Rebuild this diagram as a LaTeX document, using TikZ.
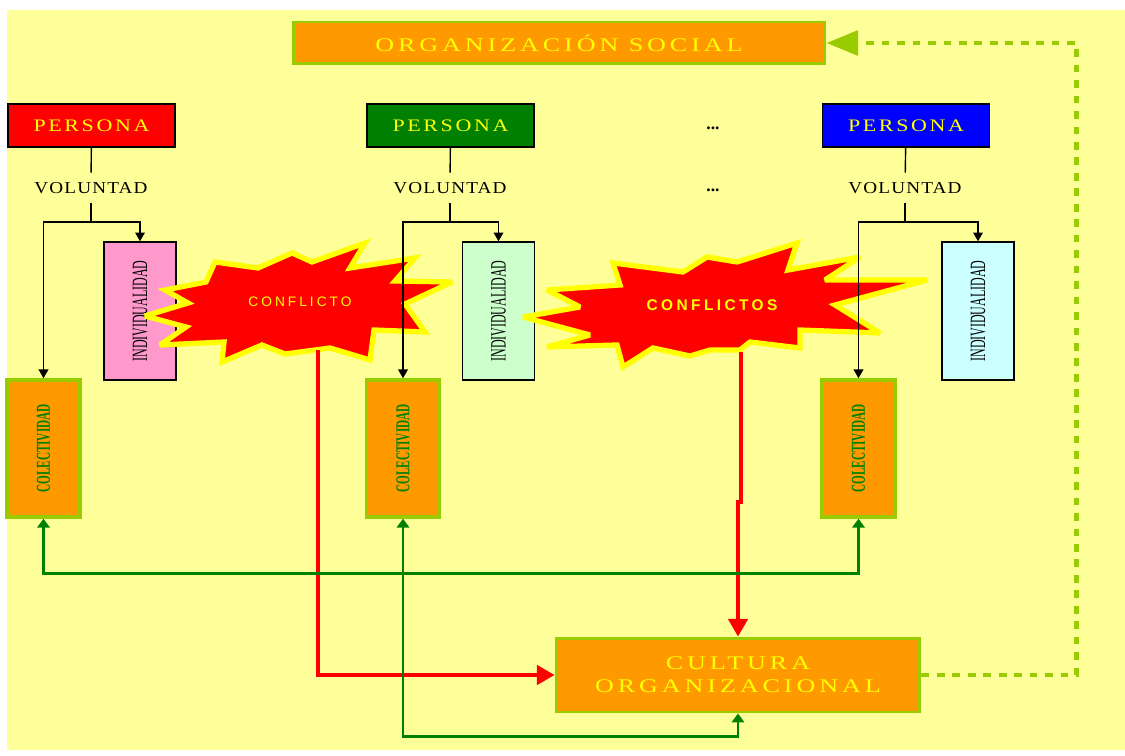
\documentclass[tikz,border=0pt]{standalone}
\usepackage{fontspec}
\setmainfont{Liberation Serif}
\newfontfamily\widefont[LetterSpace=15]{Liberation Serif}
\newfontfamily\perfont[LetterSpace=12]{Liberation Serif}
\newfontfamily\volfont[LetterSpace=6]{Liberation Serif}
\newfontfamily\burstfont[LetterSpace=22]{Liberation Sans}
\usetikzlibrary{arrows.meta,positioning}
\definecolor{bgyellow}{HTML}{FFFF99}
\definecolor{txtyellow}{HTML}{FFFF00}
\definecolor{orgorange}{HTML}{FF9900}
\definecolor{limeedge}{HTML}{99CC00}
\definecolor{perred}{HTML}{FF0000}
\definecolor{pergreen}{HTML}{008000}
\definecolor{perblue}{HTML}{0000FF}
\definecolor{indpink}{HTML}{FF99CC}
\definecolor{indmint}{HTML}{CCFFCC}
\definecolor{indcyan}{HTML}{CCFFFF}
\newcommand{\wideword}[2][1.35]{\scalebox{#1}[1]{#2}}
\newcommand{\upword}[2][0.55]{\rotatebox{90}{\scalebox{#1}[1]{#2}}}
\tikzset{
  orgbox/.style={draw=limeedge, fill=orgorange, line width=1.7pt, text=txtyellow,
    font=\widefont\fontsize{11}{13}\selectfont, align=center, inner sep=0pt},
  perbox/.style={draw=black, line width=0.8pt, text=txtyellow, inner sep=0pt,
    minimum width=3.34cm, minimum height=0.86cm, font=\perfont\fontsize{10}{11}\selectfont},
  volname/.style={inner sep=0pt, minimum height=0.6cm, font=\volfont\fontsize{9.5}{11}\selectfont},
  dotsname/.style={inner sep=0pt, font=\bfseries\fontsize{10}{11}\selectfont},
  indbox/.style={draw=black, line width=0.8pt, inner sep=0pt,
    minimum width=1.44cm, minimum height=2.76cm, font=\fontsize{12.4}{13}\selectfont},
  colbox/.style={draw=limeedge, fill=orgorange, line width=2pt, inner sep=0pt, text=pergreen,
    minimum width=1.46cm, minimum height=2.74cm, font=\bfseries\fontsize{11.2}{12}\selectfont},
  burst/.style={fill=perred, draw=txtyellow, line width=3pt, line join=miter, miter limit=3},
  burstname/.style={text=txtyellow, inner sep=0pt},
  conn/.style={draw=black, line width=0.8pt},
  connarr/.style={conn, -{Triangle[length=5pt, width=5.5pt]}},
  redarr/.style={draw=perred, line width=2pt, -{Triangle[length=10pt, width=11pt]}},
  grnarr/.style={draw=pergreen, line width=1.6pt,
    {Triangle[length=5pt, width=7pt]}-{Triangle[length=5pt, width=7pt]}},
  dotarr/.style={draw=limeedge, line width=2.5pt, dash pattern=on 4.4pt off 4.4pt,
    -{Triangle[length=18pt, width=14pt]}}
}

\begin{document}
\begin{tikzpicture}[x=0.02cm, y=-0.02cm]
  \useasboundingbox (0,0) rectangle (1125,756);
  \fill[bgyellow] (7,10) rectangle (1125,750);

  % top and bottom boxes
  \node[orgbox, minimum width=10.64cm, minimum height=0.84cm] (orgsoc) at (559,43) {\wideword{ORGANIZACIÓN SOCIAL}};
  \node[orgbox, minimum width=7.28cm, minimum height=1.48cm] (cultura) at (738,675)
    {\wideword{CULTURA}\\\wideword{ORGANIZACIONAL}};

  % personas
  \node[perbox, fill=perred] (per1) at (91.5,125.5) {\wideword[1.25]{PERSONA}};
  \node[perbox, fill=pergreen] (per2) at (450.5,125.5) {\wideword[1.25]{PERSONA}};
  \node[perbox, fill=perblue] (per3) at (906,125.5) {\wideword[1.25]{PERSONA}};

  \node[volname] (vol1) at (91,188) {\wideword[1.15]{VOLUNTAD}};
  \node[volname] (vol2) at (450,188) {\wideword[1.15]{VOLUNTAD}};
  \node[volname] (vol3) at (905,188) {\wideword[1.15]{VOLUNTAD}};

  \node[dotsname] (dotsa) at (713,128) {...};
  \node[dotsname] (dotsb) at (713,190) {...};

  % individualidad / colectividad
  \node[indbox, fill=indpink] (ind1) at (140,311) {\upword{INDIVIDUALIDAD}};
  \node[indbox, fill=indmint] (ind2) at (498.5,311) {\upword{INDIVIDUALIDAD}};
  \node[indbox, fill=indcyan] (ind3) at (978,311) {\upword{INDIVIDUALIDAD}};

  \node[colbox] (col1) at (43.5,448.5) {\upword[0.57]{COLECTIVIDAD}};
  \node[colbox] (col2) at (403,448.5) {\upword[0.57]{COLECTIVIDAD}};
  \node[colbox] (col3) at (858.5,448.5) {\upword[0.57]{COLECTIVIDAD}};

  % conflict bursts
  \draw[burst] (365,243) -- (350,268) -- (415,258) -- (395,281) -- (452,282)
    -- (405,304) -- (425,332) -- (374,330) -- (370,360) -- (330,348)
    -- (285,354) -- (262,345) -- (222,362) -- (224,342) -- (160,345)
    -- (186,327) -- (145,316) -- (188,303) -- (165,290) -- (206,282)
    -- (215,262) -- (258,268) -- (292,253) -- (312,262) -- cycle;
  \draw[burst] (797,243) -- (788,270) -- (860,257) -- (825,280) -- (927,280)
    -- (835,305) -- (880,333) -- (800,330) -- (800,348) -- (750,342)
    -- (740,350) -- (710,350) -- (690,356) -- (653,348) -- (623,367)
    -- (617,345) -- (547,347) -- (590,335) -- (523,317) -- (580,307)
    -- (547,290) -- (620,285) -- (613,263) -- (683,272) -- (707,257)
    -- (737,262) -- cycle;
  \node[burstname, font=\burstfont\fontsize{7.8}{8}\selectfont] (conf1) at (300,302) {CONFLICTO};
  \node[burstname, font=\burstfont\bfseries\fontsize{8.8}{9}\selectfont] (conf2) at (712,305) {CONFLICTOS};
  \coordinate (s1b) at (318,350);
  \coordinate (s2b) at (741,352);

  % voluntad branches
  \foreach \i/\jx in {1/91, 2/450, 3/905} {
    \coordinate (j\i) at (\jx,222);
    \draw[conn] (per\i) -- (vol\i);
    \draw[conn] (vol\i) -- (j\i);
    \draw[connarr] (j\i) -| (ind\i.north);
    \draw[connarr] (j\i) -| (col\i.north);
  }

  % conflicts into culture
  \draw[redarr] (s1b) |- (cultura.west);
  \draw[redarr] (s2b) -- ++(0,150) -| (cultura.north);

  % colectividad links
  \draw[grnarr] (col1.south) -- ++(0,55) -| (col3.south);
  \draw[grnarr] (col2.south) -- ++(0,218) -| (cultura.south);

  % feedback to organizacion social
  \draw[dotarr] (cultura.east) -- ++(155,0) |- (orgsoc.east);
\end{tikzpicture}
\end{document}
